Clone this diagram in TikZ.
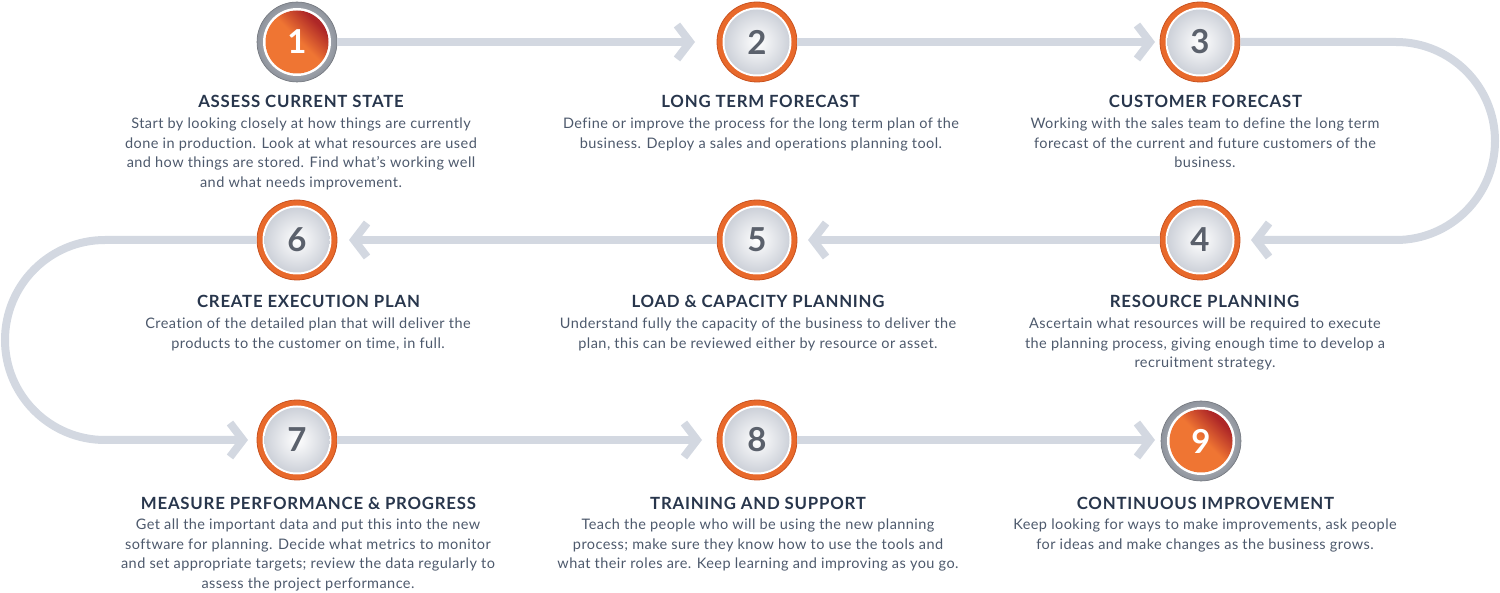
\documentclass[tikz,border=0pt]{standalone}
\usepackage{fontspec}
\setmainfont{Lato}[Ligatures=NoCommon]
\newfontfamily\bodyfont{Lato}[LetterSpace=3,Ligatures=NoCommon]
\newfontfamily\titlefont{Lato}[LetterSpace=4.5,Ligatures=NoCommon]
\usetikzlibrary{arrows.meta}
\definecolor{track}{HTML}{D3D8E1}
\definecolor{ttlc}{HTML}{28364C}
\definecolor{bdyc}{HTML}{4D596C}
\definecolor{orA}{HTML}{EF7533}
\definecolor{orRing}{HTML}{E8692B}
\definecolor{orEdge}{HTML}{C9521F}
\definecolor{redB}{HTML}{AE2727}
\definecolor{gryA}{HTML}{E4E6EA}
\definecolor{gryB}{HTML}{8E939C}
\definecolor{discB}{HTML}{CDD1D9}
\definecolor{numc}{HTML}{5B616C}
\pgfdeclarehorizontalshading{orred}{100bp}{color(0bp)=(orA); color(52bp)=(orA); color(72bp)=(redB); color(100bp)=(redB)}
\begin{document}
\begin{tikzpicture}[x=1pt,y=-1pt,
  trackline/.style={draw=track, line width=8pt,
    -{Straight Barb[length=13pt,width=34pt,sharp]}},
  stepO/.style={circle, minimum size=80pt, inner sep=0pt, fill=orRing, draw=orEdge, line width=0.8pt},
  stepG/.style={circle, minimum size=80pt, inner sep=0pt, shade, inner color=gryA, outer color=gryB, draw=gryB!80!black, line width=0.6pt},
  numO/.style={font=\fontsize{33}{33}\selectfont\bfseries, text=numc},
  numG/.style={font=\fontsize{33}{33}\selectfont\bfseries, text=white},
  ttl/.style={font=\titlefont\fontsize{16.8}{19}\selectfont\bfseries, text=ttlc, anchor=base, inner sep=0pt},
  bdy/.style={font=\bodyfont\fontsize{14.5}{19.7}\selectfont, text=bdyc, align=center, anchor=north, inner sep=0pt}
]
\useasboundingbox (0,0) rectangle (1500,593);

% circles
\node[stepG] (c1) at (297,42) {};
\node[stepO] (c2) at (757,42) {};
\node[stepO] (c3) at (1200,42) {};
\node[stepO] (c4) at (1200,240) {};
\node[stepO] (c5) at (757,240) {};
\node[stepO] (c6) at (297,240) {};
\node[stepO] (c7) at (297,440) {};
\node[stepO] (c8) at (757,440) {};
\node[stepG] (c9) at (1201,441) {};

% inner discs
\foreach \c in {c2,c3,c4,c5,c6,c7,c8}{
  \fill[white] (\c) circle (34.5pt);
  \shade[inner color=white, outer color=discB] (\c) circle (32.5pt);
}
\foreach \c in {c1,c9}{
  \fill[white] (\c) circle (34pt);
  \shade[shading=orred, shading angle=45] (\c) circle (31.5pt);
}

% numbers
\node[numG] at (c1) {1};
\node[numO] at (c2) {2};
\node[numO] at (c3) {3};
\node[numO] at (c4) {4};
\node[numO] at (c5) {5};
\node[numO] at (c6) {6};
\node[numO] at (c7) {7};
\node[numO] at (c8) {8};
\node[numG] at (c9) {9};

% connector end points
\coordinate (a2) at (695,42);
\coordinate (a3) at (1155,42);
\coordinate (a4) at (1251,240);
\coordinate (a5) at (808,240);
\coordinate (a6) at (349,240);
\coordinate (a7) at (248,440);
\coordinate (a8) at (702,440);
\coordinate (a9) at (1155,440);
\coordinate (rt) at (1495,42);
\coordinate (rb) at (1495,240);
\coordinate (lt) at (5,240);
\coordinate (lb) at (5,440);

\draw[trackline] (c1.east) -- (a2);
\draw[trackline] (c2.east) -- (a3);
\draw[trackline, rounded corners=99pt] (c3.east) -- (rt) -- (rb) -- (a4);
\draw[trackline] (c4.west) -- (a5);
\draw[trackline] (c5.west) -- (a6);
\draw[trackline, rounded corners=100pt] (c6.west) -- (lt) -- (lb) -- (a7);
\draw[trackline] (c7.east) -- (a8);
\draw[trackline] (c8.east) -- (a9);

% texts row 1
\node[ttl] (t1) at (301,108) {ASSESS CURRENT STATE};
\node[bdy] (b1) at (301,117.5) {Start by looking closely at how things are currently\\done in production. Look at what resources are used\\and how things are stored. Find what’s working well\\and what needs improvement.};
\node[ttl] (t2) at (760.5,108) {LONG TERM FORECAST};
\node[bdy] (b2) at (761,117.5) {Define or improve the process for the long term plan of the\\business. Deploy a sales and operations planning tool.};
\node[ttl] (t3) at (1205.5,108) {CUSTOMER FORECAST};
\node[bdy] (b3) at (1205,117.5) {Working with the sales team to define the long term\\forecast of the current and future customers of the\\business.};
% row 2
\node[ttl] (t6) at (308.5,308) {CREATE EXECUTION PLAN};
\node[bdy] (b6) at (308,317.5) {Creation of the detailed plan that will deliver the\\products to the customer on time, in full.};
\node[ttl] (t5) at (758,308) {LOAD \& CAPACITY PLANNING};
\node[bdy] (b5) at (758,317.5) {Understand fully the capacity of the business to deliver the\\plan, this can be reviewed either by resource or asset.};
\node[ttl] (t4) at (1204.5,308) {RESOURCE PLANNING};
\node[bdy] (b4) at (1205,317.5) {Ascertain what resources will be required to execute\\the planning process, giving enough time to develop a\\recruitment strategy.};
% row 3
\node[ttl] (t7) at (308.5,509) {MEASURE PERFORMANCE \& PROGRESS};
\node[bdy] (b7) at (308,518.5) {Get all the important data and put this into the new\\software for planning. Decide what metrics to monitor\\and set appropriate targets; review the data regularly to\\assess the project performance.};
\node[ttl] (t8) at (758,509) {TRAINING AND SUPPORT};
\node[bdy] (b8) at (758,518.5) {Teach the people who will be using the new planning\\process; make sure they know how to use the tools and\\what their roles are. Keep learning and improving as you go.};
\node[ttl] (t9) at (1205.5,509) {CONTINUOUS IMPROVEMENT};
\node[bdy] (b9) at (1205,518.5) {Keep looking for ways to make improvements, ask people\\for ideas and make changes as the business grows.};
\end{tikzpicture}
\end{document}
